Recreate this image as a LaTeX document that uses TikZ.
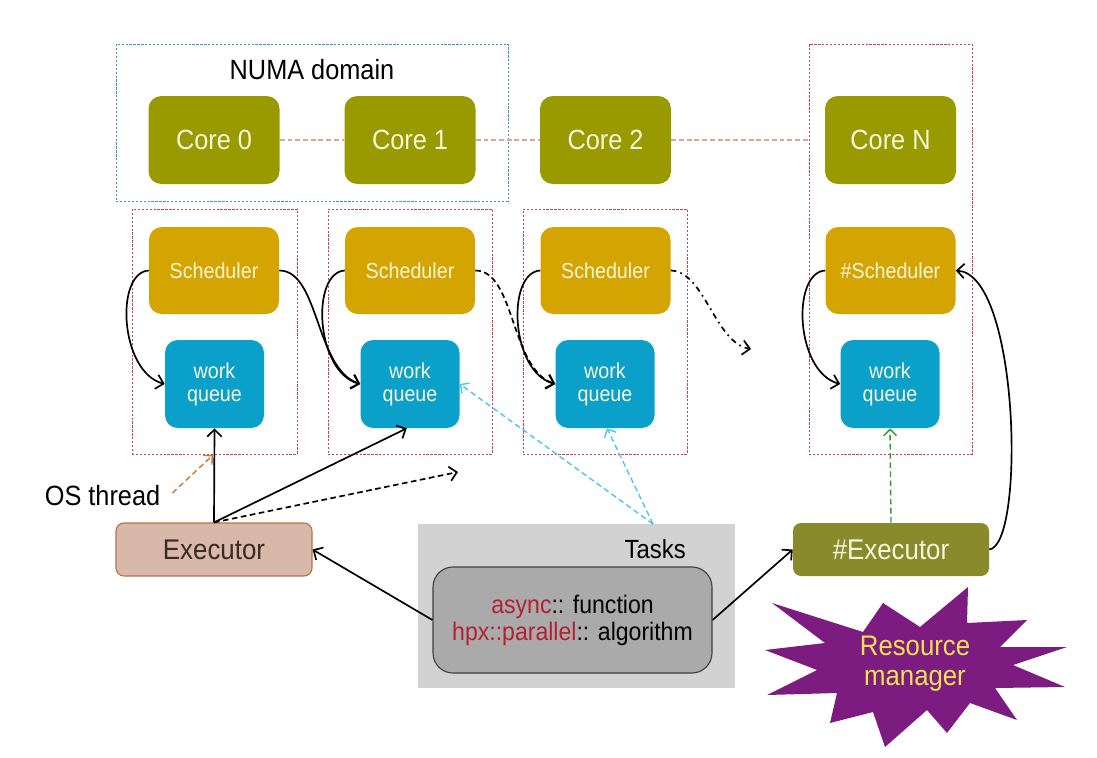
\documentclass[tikz,border=0pt]{standalone}
\usepackage{fontspec}
\usepackage{graphicx}
\setmainfont{Liberation Sans}
\usetikzlibrary{arrows.meta,calc}

\definecolor{coreol}{HTML}{999A00}
\definecolor{schedgold}{HTML}{D4A500}
\definecolor{wqblue}{HTML}{0BA0C9}
\definecolor{boxtext}{HTML}{F8F5DC}
\definecolor{reddash}{HTML}{C8405A}
\definecolor{numablue}{HTML}{3A96B8}
\definecolor{linksalmon}{HTML}{E3A493}
\definecolor{execfill}{HTML}{D9B8AC}
\definecolor{execdraw}{HTML}{B57548}
\definecolor{exectext}{HTML}{3A2A22}
\definecolor{hexecfill}{HTML}{888A2C}
\definecolor{taskbg}{HTML}{D2D2D2}
\definecolor{taskin}{HTML}{AAAAAA}
\definecolor{taskred}{HTML}{B32036}
\definecolor{taskcyan}{HTML}{4CC8EC}
\definecolor{osorange}{HTML}{C67A34}
\definecolor{greendash}{HTML}{2E9A3A}
\definecolor{starpurple}{HTML}{7D1C80}
\definecolor{staryellow}{HTML}{F3E250}

% slightly tall lettering
\newcommand\tall[1]{\scalebox{1}[1.1]{#1}}

\begin{document}
\begin{tikzpicture}[x=0.025cm, y=-0.025cm,
  size/.style 2 args={minimum width=#1*0.025cm, minimum height=#2*0.025cm, inner sep=0pt},
  corebox/.style={size={131}{88}, rounded corners=0.32cm, fill=coreol, text=boxtext,
    font=\fontsize{18}{21}\selectfont},
  schedbox/.style={size={130}{87}, rounded corners=0.32cm, fill=schedgold, text=boxtext,
    font=\fontsize{14}{17}\selectfont},
  wqbox/.style={size={99}{88}, rounded corners=0.32cm, fill=wqblue, text=boxtext,
    align=center, font=\fontsize{14}{16.4}\selectfont},
  threadbox/.style={draw=reddash, line width=0.6pt, dash pattern=on 1.6pt off 1.2pt},
  arr/.style={line width=1.2pt, -{Straight Barb[length=1.8mm,width=3.6mm]}},
  thinarr/.style={line width=1pt, dash pattern=on 4pt off 2.5pt, -{Straight Barb[length=1.6mm,width=3.2mm]}},
  plainlabel/.style={inner sep=0pt, font=\fontsize{18}{21}\selectfont}
]
\useasboundingbox (0,0) rectangle (1097,757);

% NUMA domain and per-thread frames
\node[draw=numablue, line width=0.6pt, dash pattern=on 1.6pt off 1.2pt, size={392}{157}] (numa) at (312,122.5) {};
\node[threadbox, size={165}{245}] (f0) at (214.5,331.5) {};
\node[threadbox, size={164}{245}] (f1) at (410,331.5) {};
\node[threadbox, size={164}{245}] (f2) at (605,331.5) {};
\node[threadbox, size={163}{410}] (fN) at (890.5,249) {};
\node[plainlabel] (numalabel) at (312,70) {\tall{NUMA domain}};

% cores
\node[corebox] (c0) at (214,140) {\tall{Core 0}};
\node[corebox] (c1) at (410,140) {\tall{Core 1}};
\node[corebox] (c2) at (605.5,140) {\tall{Core 2}};
\node[corebox] (cN) at (890.5,140) {\tall{Core N}};
\draw[linksalmon, line width=0.8pt, dash pattern=on 3.5pt off 2pt] (c0.east) -- (c1.west);
\draw[linksalmon, line width=0.8pt, dash pattern=on 3.5pt off 2pt] (c1.east) -- (c2.west);
\draw[linksalmon, line width=0.8pt, dash pattern=on 3.5pt off 2pt] (c2.east) -- (c2.east -| fN.west);

% schedulers and work queues
\node[schedbox] (s0) at (214,270.5) {\tall{Scheduler}};
\node[schedbox] (s1) at (410,270.5) {\tall{Scheduler}};
\node[schedbox] (s2) at (605.5,270.5) {\tall{Scheduler}};
\node[schedbox] (sN) at (890.5,270.5) {\tall{\#Scheduler}};
\node[wqbox] (w0) at (214.5,384) {\tall{work}\\\tall{queue}};
\node[wqbox] (w1) at (410,384) {\tall{work}\\\tall{queue}};
\node[wqbox] (w2) at (605,384) {\tall{work}\\\tall{queue}};
\node[wqbox] (wN) at (890,384) {\tall{work}\\\tall{queue}};

\draw[arr] (s0.west) .. controls +(-34,2) and +(-45,-12) .. (w0.west);
\draw[arr] (s1.west) .. controls +(-34,2) and +(-45,-12) .. (w1.west);
\draw[arr] (s2.west) .. controls +(-34,2) and +(-45,-12) .. (w2.west);
\draw[arr] (sN.west) .. controls +(-34,2) and +(-45,-12) .. (wN.west);
\draw[arr] (s0.east) .. controls +(40,0) and +(-45,-15) .. (w1.west);
\draw[arr, dash pattern=on 4pt off 2.5pt] (s1.east) .. controls +(40,0) and +(-45,-15) .. (w2.west);
\coordinate (more) at (751,349);
\draw[arr, dash pattern=on 4pt off 3pt on 1.2pt off 3pt] (s2.east) .. controls +(34,1) and +(-36,-6) .. (more);

% executors
\node[draw=execdraw, line width=0.8pt, fill=execfill, rounded corners=0.2cm, size={196}{53},
  text=exectext, font=\fontsize{18.4}{21}\selectfont] (ex) at (214,549.5) {\tall{Executor}};
\node[fill=hexecfill, rounded corners=0.2cm, size={196}{53}, text=boxtext,
  font=\fontsize{18.4}{21}\selectfont] (hex) at (891,549.5) {\tall{\#Executor}};

\node[plainlabel] (ost) at (102.5,496) {\tall{OS thread}};
\draw[osorange, thinarr] ([shift={(12,-3)}]ost.east) -- (213,455);

\coordinate (spare) at (458,472);
\draw[arr] (ex.north) -- (w0.south);
\draw[arr] (ex.north) -- ([xshift=-0.08cm]w1.south);
\draw[arr, dash pattern=on 4pt off 2.5pt] (ex.north) -- (spare);

% tasks
\node[fill=taskbg, size={317}{164}] (tasks) at (576.5,606) {};
\node[inner sep=0pt, font=\fontsize{17}{20}\selectfont, anchor=east] (taskslabel) at (686,549) {\tall{Tasks}};
\node[draw=black!75, line width=0.8pt, fill=taskin, rounded corners=0.5cm, size={279}{106},
  align=center, font=\fontsize{16.4}{19.2}\selectfont] (api) at (572.5,620)
  {\tall{\textcolor{taskred}{async}:: function}\\\tall{\textcolor{taskred}{hpx::parallel}:: algorithm}};
\coordinate (tsrc) at (653,524);
\draw[taskcyan, thinarr] (tsrc) -- (w1.east);
\draw[taskcyan, thinarr] (tsrc) -- ([xshift=0.05cm]w2.south);

\draw[arr] (api.west) -- (ex.east);
\draw[arr] (api.east) -- (hex.west);
\draw[greendash, thinarr] (hex.north) -- (wN.south);
\draw[arr] (hex.east) .. controls +(36,-4) and +(64,4) .. (sN.east);

% resource manager burst
\fill[starpurple] (765,650) -- (825,643) -- (772,603) -- (863,632) -- (883,603) -- (920,627)
  -- (968,587) -- (967,623) -- (1027,620) -- (1000,647) -- (1067,647) -- (1013,665)
  -- (1065,687) -- (995,688) -- (1017,720) -- (970,703) -- (947,733) -- (927,710)
  -- (885,747) -- (873,712) -- (830,723) -- (837,693) -- (767,695) -- (817,670) -- cycle;
\node[inner sep=0pt, align=center, text=staryellow, font=\fontsize{18.3}{21.5}\selectfont]
  (rm) at (915,664) {\tall{Resource}\\\tall{manager}};
\end{tikzpicture}
\end{document}
